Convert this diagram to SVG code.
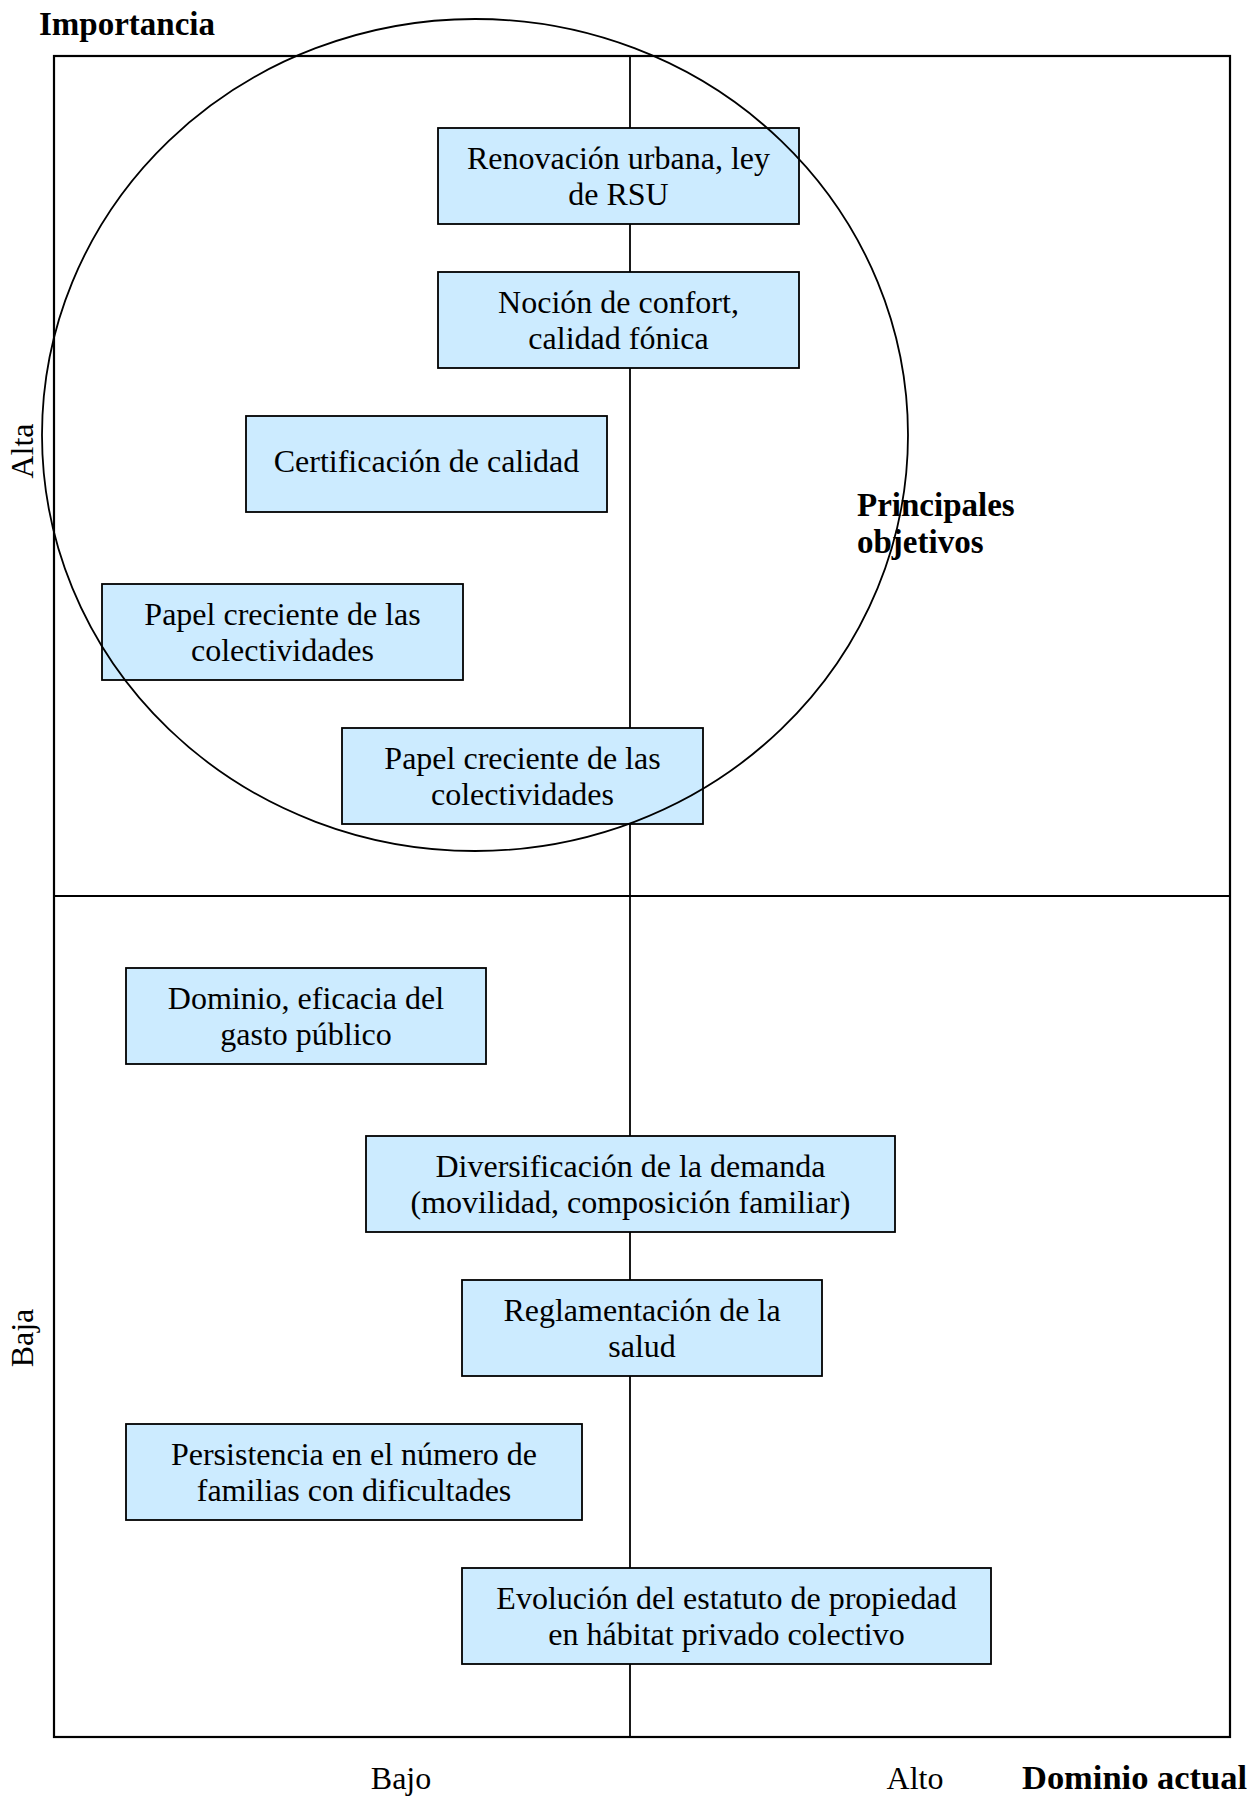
<svg xmlns="http://www.w3.org/2000/svg" width="1256" height="1798" viewBox="0 0 1256 1798">
<style>
.box rect{fill:#CCEBFF;stroke:#000;stroke-width:1.8}
.box text{font-family:"Liberation Serif","Times New Roman",serif;font-size:32px;text-anchor:middle;fill:#000}
.lbl{font-family:"Liberation Serif","Times New Roman",serif;font-size:32px;fill:#000}
.bold{font-weight:bold;font-size:33px}
.ln{stroke:#000;stroke-width:1.8;fill:none}
</style>
<rect width="1256" height="1798" fill="#fff"/>
<g id="axes">
<rect x="54" y="56" width="1176" height="1681" fill="none" stroke="#000" stroke-width="2.2"/>
<line class="ln" x1="630" y1="56" x2="630" y2="1737"/>
<line class="ln" x1="54" y1="896" x2="1230" y2="896"/>
</g>
<g id="labels">
<text class="lbl bold" x="39" y="35">Importancia</text>
<text class="lbl" transform="translate(33,451) rotate(-90)" text-anchor="middle">Alta</text>
<text class="lbl" transform="translate(33,1338) rotate(-90)" text-anchor="middle">Baja</text>
<text class="lbl" x="401" y="1789" text-anchor="middle">Bajo</text>
<text class="lbl" x="915" y="1789" text-anchor="middle">Alto</text>
<text class="lbl bold" x="1022" y="1789" textLength="225" lengthAdjust="spacingAndGlyphs">Dominio actual</text>
</g>
<g id="n1" class="box"><rect x="438" y="128" width="361" height="96"/><text x="618.5" y="168.5">Renovación urbana, ley</text><text x="618.5" y="205">de RSU</text></g>
<g id="n2" class="box"><rect x="438" y="272" width="361" height="96"/><text x="618.5" y="312.5">Noción de confort,</text><text x="618.5" y="349">calidad fónica</text></g>
<g id="n3" class="box"><rect x="246" y="416" width="361" height="96"/><text x="426.5" y="471.5">Certificación de calidad</text></g>
<g id="n4" class="box"><rect x="102" y="584" width="361" height="96"/><text x="282.5" y="624.5">Papel creciente de las</text><text x="282.5" y="661">colectividades</text></g>
<g id="n5" class="box"><rect x="342" y="728" width="361" height="96"/><text x="522.5" y="768.5">Papel creciente de las</text><text x="522.5" y="805">colectividades</text></g>
<g id="n6" class="box"><rect x="126" y="968" width="360" height="96"/><text x="306" y="1008.5">Dominio, eficacia del</text><text x="306" y="1045">gasto público</text></g>
<g id="n7" class="box"><rect x="366" y="1136" width="529" height="96"/><text x="630.5" y="1176.5">Diversificación de la demanda</text><text x="630.5" y="1213">(movilidad, composición familiar)</text></g>
<g id="n8" class="box"><rect x="462" y="1280" width="360" height="96"/><text x="642" y="1320.5">Reglamentación de la</text><text x="642" y="1357">salud</text></g>
<g id="n9" class="box"><rect x="126" y="1424" width="456" height="96"/><text x="354" y="1464.5">Persistencia en el número de</text><text x="354" y="1501">familias con dificultades</text></g>
<g id="n10" class="box"><rect x="462" y="1568" width="529" height="96"/><text x="726.5" y="1608.5">Evolución del estatuto de propiedad</text><text x="726.5" y="1645">en hábitat privado colectivo</text></g>
<g id="circle">
<ellipse cx="475" cy="435" rx="433" ry="416" fill="none" stroke="#000" stroke-width="1.8"/>
<text class="lbl bold" x="857" y="516">Principales</text>
<text class="lbl bold" x="857" y="553">objetivos</text>
</g>
</svg>
